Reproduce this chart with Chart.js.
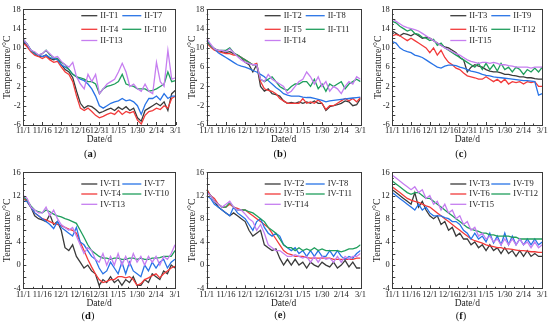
<!DOCTYPE html>
<html><head><meta charset="utf-8">
<script src="https://cdn.jsdelivr.net/npm/chart.js@4.4.0/dist/chart.umd.min.js"></script>
<style>
html,body{margin:0;padding:0;background:#fff;}
#wrap{position:relative;width:550px;height:330px;overflow:hidden;font-family:"Liberation Serif","Times New Roman",serif;}
canvas{position:absolute;left:0;top:0;}
.cap{position:absolute;font-size:10.5px;color:#111;transform:translate(-50%,-50%);white-space:nowrap;}
</style></head><body>
<div id="wrap">
<canvas id="ca" width="550" height="330"></canvas>
<canvas id="cb" width="550" height="330"></canvas>
<canvas id="cc" width="550" height="330"></canvas>
<canvas id="cd" width="550" height="330"></canvas>
<canvas id="ce" width="550" height="330"></canvas>
<canvas id="cf" width="550" height="330"></canvas>
<div class="cap" style="left:90px;top:153px">(<b>a</b>)</div>
<div class="cap" style="left:280px;top:153px">(<b>b</b>)</div>
<div class="cap" style="left:461px;top:153px">(<b>c</b>)</div>
<div class="cap" style="left:88px;top:315px">(<b>d</b>)</div>
<div class="cap" style="left:280px;top:314px">(<b>e</b>)</div>
<div class="cap" style="left:461px;top:315px">(<b>f</b>)</div>
</div>
<script>
// ---- data ----
const days = [0,3,6,9,12,15,18,21,24,27,30,33,36,39,42,45,48,51,54,57,60,63,66,69,72,75,78,81,84,87,90,93,96,99,102,105,108,111,114,117,120];
const dateTickLabels = ['11/1','11/16','12/1','12/16','12/31','1/15','1/30','2/14','3/1'];
const xTitle = 'Date/d';
const yTitle = 'Temperature/°C';

// (a)
const labelsA = ['II-T1','II-T4','II-T7','II-T10','II-T13'];
const a_T1  = [11.3,10.5,9.5,8.8,8.3,8.2,8.5,7.8,7.5,7.8,6.5,5.5,5,3.8,1,-1.5,-2.5,-2,-2.2,-2.8,-3.5,-3.2,-2.8,-2.5,-3,-2.3,-2.8,-2.2,-3,-2.5,-4.5,-5.2,-3,-2.5,-2,-1.5,-2,-1.2,-3,0.5,1.2];
const a_T4  = [11,10.2,9.2,8.5,8.2,7.8,8.2,7.5,7,7.2,6,5,4.5,3,0,-2.5,-3,-2.5,-3.2,-4,-4.5,-4.2,-3.8,-3.5,-3.8,-3,-3.8,-3.2,-3.5,-3.2,-5,-5.8,-4,-3.2,-3,-2.5,-2.8,-2,-2.5,-0.5,0];
const a_T7  = [11.5,10.8,9.5,8.8,8.5,8.2,8.5,8,7.8,7.5,6.5,6,5.5,4.5,4,3.5,3.2,2.5,1.5,0,-2,-2.5,-2,-1.5,-1.2,-1,-0.5,-1,-0.8,-1.2,-2,-3.8,-1.8,-0.5,-0.5,0,-0.8,0.5,-0.5,0,0];
const a_T10 = [11.8,10.8,9.5,9,8.5,8.8,9.5,8.5,8,7.8,7,6.5,5.5,4.5,4,3.8,3.5,3,3,2.5,0.5,1.5,2,2.2,2.5,3,4.5,2.5,2.2,2,1.5,1.5,1.5,1,1.2,1.5,2,2.5,5,3,3.2];
const a_T13 = [11.8,10.8,9.5,9.2,8.5,8.8,9.5,8.8,8,8.2,7.2,6.5,6,7,4,2.5,1.5,4.5,3,4.5,0.5,1.5,2.5,3,3.5,5,6.8,5,2,2.5,1.5,1,2.5,1,0.5,7,3,2,9.5,3.5,3.8];

// (b)
const labelsB = ['II-T2','II-T5','II-T8','II-T11','II-T14'];
const b_T2  = [11.5,10.5,9.8,9.5,9.2,9,9.2,8.8,8.5,8,7,6.5,5,6.5,2,1,1.5,0.5,0.3,0,-1,-1.5,-1.3,-1.5,-1.2,-1.5,-1.2,-1.5,-1,-1.5,-1.5,-3,-2.2,-2,-1.8,-1.5,-1,-1.2,-2,-1.8,-0.5];
const b_T5  = [11,10.2,9.5,9.2,9,8.8,8.8,8.5,8.5,8,7.5,7,6.5,6.8,3,1.5,1.2,1,0.5,-0.5,-1,-1.5,-1.5,-1.5,-1.5,-0.5,-1.5,-1.2,-1.5,-0.8,-1.5,-2.8,-2,-2,-1.5,-1,-0.5,-1,-0.5,-1.2,-0.3];
const b_T8  = [11.5,10.5,9.8,9,8.5,8,7.5,7,6.5,6.2,6,5.7,5.3,5,4.5,4,3.2,2.5,1.8,1.2,0.5,0.2,0,0,0,-0.2,-0.3,-0.3,-0.5,-0.7,-0.9,-1.2,-1,-0.9,-0.8,-0.7,-0.6,-0.5,-0.4,-0.3,-0.2];
const b_T11 = [11.5,10.5,9.8,9.5,9.5,9.5,10,9,8.5,8,7.5,7,6.5,6.5,3.5,3,3.5,4,3,2,1.5,1.2,2,2.5,2.5,3,3,2,3.5,1.5,2.5,1,2.5,2,2.5,3,1.5,2.5,3,3.5,3];
const b_T14 = [12,10.8,9.8,9.5,9.5,9.2,9.8,9,8.2,7.5,7,6.8,6.5,6.5,3.5,3,4.5,3.5,3,2.5,2,0.5,1,2,3,3.5,5,4,2.5,4,2,3,1,2,1.5,0.5,2,3,2.5,4,3.5];

// (c)
const labelsC = ['II-T3','II-T6','II-T9','II-T12','II-T15'];
const c_T3  = [13.5,13,12.5,13,12.8,12.5,13,12.5,12,12.2,12,11.5,11,10.5,10.2,10,9.5,9,8,7.5,5,6,6.5,6.2,6,5.5,5.2,5,5,4.8,4.5,4.5,4.3,4.2,4,4,3.8,3.8,3.6,3.5,3.5];
const c_T6  = [12.5,12.8,12.5,12,11.5,12,11.5,11,10.5,10,9,10,8.5,9.5,8,7,6.5,5.8,5.5,4.8,4.2,4,3.8,3.5,3.5,4,3.5,3,3.5,2.8,3.5,2.5,3,2.8,3,2.5,3,2.8,3,2,2];
const c_T9  = [11.3,11,10,9.5,9.2,9,8.5,8.3,8,7.5,7,6.5,6,5.8,6.2,6.4,6.4,6.3,6,5.8,5.5,5.2,5,4.8,4.5,4.3,4.2,4,3.9,3.8,3.7,3.6,3.5,3.4,3.3,3.2,3.2,3.1,3,0.2,0.5];
const c_T12 = [15.5,15.2,14.5,14,13.5,13.8,13,12.8,12.2,12,11.5,11.8,10.5,11,10,9.5,9,8.5,8,7.5,7,6.5,6,6.8,5.5,6.8,5.5,6.5,5.2,6.8,5.5,6,5,6,5.5,4.5,5.5,5,5.8,5,6];
const c_T15 = [16,15.5,15,14.5,14.2,14,13.8,13.5,13,12.5,12,11.5,11,10.5,10,9.6,9.2,8.8,8.5,8,7.5,7.2,7,6.8,7,7,6.8,7,6.8,6.5,6.5,6.3,6.2,6,6,6,6,5.8,6,6,6];

// (d)
const labelsD = ['IV-T1','IV-T4','IV-T7','IV-T10','IV-T13'];
const d_T1  = [11.5,11,10,8.5,8,7.8,7.5,8.7,7,7.5,6,3,2.5,3.5,1.5,0.5,-0.5,0,-1,-1.5,-3.5,-2.5,-3,-2,-3,-2.5,-3.5,-2.5,-3,-2,-3.5,-3.5,-2.5,-3,-1.5,-2,-2.5,-1,-1.5,0,-0.5];
const d_T4  = [11.5,11,10,9,8.5,8,7.8,7.5,7.2,7,6.8,6.5,6.2,6,5.5,4,2.5,1,-0.3,-1.5,-2.5,-3,-2.8,-2.5,-2.5,-2,-2,-2.2,-2,-2.5,-3.5,-3.2,-2.5,-2.2,-1.8,-1.5,-2.2,-1.5,-1,-0.5,-0.2];
const d_T7  = [11,11,10,9,8.5,8,7.5,7,6.3,7.5,6.5,6,5.5,5,6.5,4,3.5,2.5,1.5,1,-0.5,-1.5,-1,0.5,-0.5,-1.5,0.5,-1.5,0.5,-1,-1.5,-2,0,-1,0.5,-0.5,0.5,1,-0.5,0.5,1];
const d_T10 = [11.8,11.2,10.2,9.5,9.2,9,9.5,9.2,8.8,8.5,8.3,8,7.8,7.5,7.2,6,4.8,3.5,2.5,2,1.5,1.2,1.2,1,1.2,1.2,1,1,1.2,1.2,1,1.2,1,1,1.2,1.2,1.3,1.5,1.5,1.5,2.5];
const d_T13 = [12,11.5,10,9.5,9,9,10,8.5,9.5,8,7,6.5,6,6.5,5,3.5,2,3,2.5,1,0.5,2,0,1.5,0,2,0,1.5,0,2,0.5,1.5,0,1.5,0.5,1.5,0,1.5,1,2,3.5];

// (e)
const labelsE = ['IV-T2','IV-T5','IV-T8','IV-T11','IV-T14'];
const e_T2  = [13,12,11,10,9.5,9,8.5,9,8.5,8,7.5,6,5,5.5,6,3.5,3,2.5,2.8,1.2,0,1,0,1,0,0.5,-0.5,0.5,0,-0.3,0.5,0,-0.3,0.5,-0.5,0,0.8,-0.3,0.5,-0.5,-0.5];
const e_T5  = [13,12,11.5,10.5,10,10,10.5,10,9.8,9.5,9.5,9,8.5,8,7.5,7,6.5,5.5,4.5,3.5,2.5,2,1.8,1.5,1.5,1.5,1.3,1.2,1.2,1.2,1.2,1.2,1.2,1,1,1,1,1,1,1.2,1.2];
const e_T8  = [12,11.5,10.5,10,9.5,9,8.5,10,9,8.5,8,7,6,7.5,8,6.5,5.5,5,5.5,5,3.5,3,2.5,3,2,2.5,1.5,2.5,1.5,2.5,1.5,1.5,2.5,1.5,2.5,1.5,1,1.5,1.2,2,2.5];
const e_T11 = [12.5,12,11,10.5,10,10,10.8,10,9.5,9.5,9.5,9.2,9,8.5,8,7.5,6.5,6,5.5,4.5,3.5,3,3,2.5,3,2.5,2.8,2.5,3,2.5,2.8,2.5,2.5,2.5,2.5,2.3,2.5,2.8,2.8,3,3.5];
const e_T14 = [12.5,12,11,10.5,10,10.5,11,10,9.5,9.5,8.8,8,7.5,6,7,5.5,3.5,3,2.5,2.5,2,1.5,1.5,1.8,1.5,1.2,1.5,0.5,1.5,0.5,1.5,1,1.2,0.5,1.5,0.5,1.5,1,1.5,1.5,2];

// (f)
const labelsF = ['IV-T3','IV-T6','IV-T9','IV-T12','IV-T15'];
const f_T3  = [13,12.5,12,11.5,11,10.5,12.5,10,11,9.5,8.5,8,8.5,7,7.5,6,6.5,5,5.5,4.5,4.5,3.5,4,3,3.5,2.5,3.5,2.5,3,2,3,2,2.5,1.5,2.5,1.5,2.5,1.5,2,1.5,1.5];
const f_T6  = [13.5,13,12.5,12,11.5,11.2,11,10.8,10.5,10.2,10,9.5,9,8.5,8,7.5,7,6.5,6,5.5,5,4.5,4.2,4,3.8,3.5,3.3,3.2,3,3,2.8,2.8,2.7,2.6,2.5,2.5,2.4,2.3,2.3,2.2,2.2];
const f_T9  = [12.5,12,11.5,11,10.5,10,9.5,10.5,9.5,10,9,8.5,8.5,8.5,8.2,8,7.5,7.5,7,6,5.5,4.5,5.5,4.5,5,4,5.5,3.8,5,3.5,5.5,3.5,5,3.5,4.5,3.5,4.5,3.5,4.5,3.5,4];
const f_T12 = [14.5,14,13.5,13,12.5,12.2,12.5,12.5,12,11.5,11.5,11,10.5,10,9.5,9,8.5,8,7.5,7,6.5,6.2,6,5.8,5.5,5.5,5.2,5.2,5,5,5,5,4.8,4.8,4.5,4.5,4.5,4.5,4.5,4.5,4.5];
const f_T15 = [15.5,15,14.5,14,13.5,13,13.5,12.5,13,11.5,12,10.5,11,9.5,10.5,9,9.5,8,8.5,7,7.5,6,6.5,5,5.5,4.5,5,4,4.5,3.5,4.5,3.5,4.5,3.5,4.5,3.5,4,3,4,3,3.5];

// ---- styling ----
const COLORS = ['#3a3a3a','#f23a3a','#2873e6','#1f9e5c','#c67ef0'];
Chart.defaults.font.family = '"Liberation Serif","Times New Roman",serif';
Chart.defaults.color = '#222';

const framePlugin = {
  id: 'frame',
  afterDatasetsDraw(chart) {
    const {ctx, chartArea: a, scales: {x, y}} = chart;
    ctx.save();
    ctx.strokeStyle = '#3a3a3a';
    ctx.lineWidth = 1;
    ctx.strokeRect(Math.round(a.left) + 0.5, Math.round(a.top) + 0.5, Math.round(a.right - a.left), Math.round(a.bottom - a.top));
    ctx.beginPath();
    for (let v = y.min; v <= y.max; v += 1) {
      const py = Math.round(y.getPixelForValue(v)) + 0.5;
      const len = (Math.abs(v) % 2 === 0) ? 3 : 1.5;
      ctx.moveTo(a.left, py); ctx.lineTo(a.left + len, py);
    }
    for (let v = 0; v <= 120; v += 7.5) {
      const px = Math.round(x.getPixelForValue(v)) + 0.5;
      const len = (v % 15 === 0) ? 3 : 1.5;
      ctx.moveTo(px, a.bottom); ctx.lineTo(px, a.bottom - len);
    }
    ctx.stroke();
    ctx.restore();
  }
};

const legendPlugin = {
  id: 'inlegend',
  afterDatasetsDraw(chart, args, opts) {
    const {ctx, chartArea: a} = chart;
    ctx.save();
    ctx.font = '8.5px "Liberation Serif","Times New Roman",serif';
    ctx.textBaseline = 'middle';
    ctx.textAlign = 'left';
    ctx.fillStyle = '#222';
    const slots = [[0,0],[0,1],[1,0],[1,1],[0,2]];
    chart.data.datasets.forEach((ds, i) => {
      const [col, row] = slots[i];
      const yy = a.top + opts.rows[row];
      const c = opts.cols[col];
      ctx.strokeStyle = ds.borderColor;
      ctx.lineWidth = 1.3;
      ctx.beginPath();
      ctx.moveTo(a.left + c[0], yy); ctx.lineTo(a.left + c[1], yy);
      ctx.stroke();
      ctx.fillText(ds.label, a.left + c[2], yy);
    });
    ctx.restore();
  }
};

function makePanel(id, g, yMin, yMax, labels, series) {
  const YW = 22, XH = 24;
  const datasets = series.map((vals, i) => ({
    label: labels[i],
    data: days.map((d, k) => ({x: d, y: vals[k]})),
    borderColor: COLORS[i],
    backgroundColor: COLORS[i],
    borderWidth: 1.3,
    pointRadius: 0,
    tension: 0,
    order: -i
  }));
  new Chart(document.getElementById(id), {
    type: 'line',
    data: {datasets},
    options: {
      responsive: false,
      animation: false,
      events: [],
      layout: {padding: {left: g.L - YW, right: 550 - g.R, top: g.T, bottom: 330 - g.B - XH}},
      plugins: {
        legend: {display: false},
        tooltip: {enabled: false},
        inlegend: {rows: g.rows, cols: [[58, 74, 77], [99, 118, 121]]}
      },
      scales: {
        x: {
          type: 'linear', min: 0, max: 120,
          afterFit: s => { s.height = XH; s.paddingLeft = 0; s.paddingRight = 0; },
          grid: {display: false, drawTicks: false},
          border: {display: false},
          ticks: {stepSize: 15, autoSkip: false, maxRotation: 0, padding: 1,
                  font: {size: 8.5}, color: '#222',
                  callback: v => dateTickLabels[Math.round(v / 15)]},
          title: {display: true, text: xTitle, font: {size: 9.5}, color: '#222',
                  padding: {top: 0, bottom: g.xtp}}
        },
        y: {
          min: yMin, max: yMax,
          afterFit: s => { s.width = YW; s.paddingTop = 0; s.paddingBottom = 0; },
          grid: {display: false, drawTicks: false},
          border: {display: false},
          ticks: {stepSize: 2, padding: 2.5, font: {size: 8.5}, color: '#222'},
          title: {display: true, text: yTitle, font: {size: 10}, color: '#222',
                  padding: {top: Math.max(0, g.ty - (g.L - YW) - 6), bottom: 0}}
        }
      }
    },
    plugins: [framePlugin, legendPlugin]
  });
}

const topRows = [6.4, 20, 31.2];
const botRows = [11.7, 21.7, 32];
makePanel('ca', {L: 23.3, R: 175.5, T: 9.3, B: 125, ty: 7, xtp: 4, rows: topRows}, -6, 18, labelsA, [a_T1, a_T4, a_T7, a_T10, a_T13]);
makePanel('cb', {L: 206.7, R: 360.5, T: 9.3, B: 125, ty: 192.3, xtp: 4, rows: topRows}, -6, 18, labelsB, [b_T2, b_T5, b_T8, b_T11, b_T14]);
makePanel('cc', {L: 392.3, R: 542.3, T: 9.3, B: 125, ty: 378.5, xtp: 4, rows: topRows}, -6, 18, labelsC, [c_T3, c_T6, c_T9, c_T12, c_T15]);
makePanel('cd', {L: 23.3, R: 175, T: 172.3, B: 288.3, ty: 7, xtp: 3, rows: botRows}, -4, 16, labelsD, [d_T1, d_T4, d_T7, d_T10, d_T13]);
makePanel('ce', {L: 206.7, R: 360.5, T: 172.3, B: 288.3, ty: 192, xtp: 3, rows: botRows}, -4, 16, labelsE, [e_T2, e_T5, e_T8, e_T11, e_T14]);
makePanel('cf', {L: 392.3, R: 542.3, T: 172.3, B: 288.3, ty: 377.5, xtp: 3, rows: botRows}, -4, 16, labelsF, [f_T3, f_T6, f_T9, f_T12, f_T15]);
</script>
</body></html>
